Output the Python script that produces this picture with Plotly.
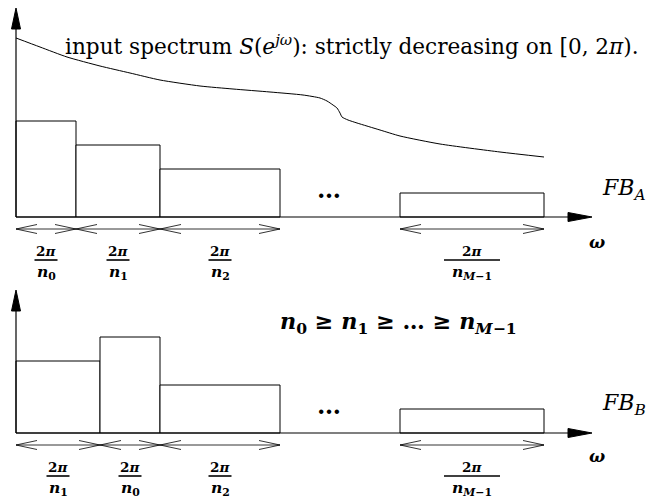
import plotly.graph_objects as go

W, H = 654, 499          # page size in pixels
PAD = 8                  # default body margin of the html page

# ---------------- data ----------------
# filter bank A: band index labels, start offsets, widths, levels
bands_A = ["0", "1", "2", "M−1"]
starts_A = [0, 60, 144, 384]
widths_A = [60, 84, 120, 144]
levels_A = [96, 72, 48, 24]

# filter bank B
bands_B = ["1", "0", "2", "M−1"]
starts_B = [0, 84, 144, 384]
widths_B = [84, 60, 120, 144]
levels_B = [72, 96, 48, 24]

# input spectrum S(e^{jw}) (strictly decreasing)
spec_w = [0, 24, 51, 84, 114, 144, 184, 217, 254, 287, 304, 311, 317, 321, 324,
          326, 332, 341, 364, 384, 424, 484, 528]
spec_s = [179, 170, 160, 151, 144, 137, 131, 128, 125, 122, 119, 116, 112, 109,
          104, 100, 97, 94, 87, 81, 73, 65, 60]

# ---------------- layout helpers ----------------
OX = 16
OY_A = H - 217
OY_B = H - 433
SERIF = "DejaVu Serif, Liberation Serif, serif"

fig = go.Figure()
shapes = []
annotations = []


def line(x0, y0, x1, y1, w=1.0):
    shapes.append(dict(type="line", x0=x0, y0=y0, x1=x1, y1=y1,
                       xref="x", yref="y", line=dict(color="black", width=w)))


def tri(points):
    p = "M " + " L ".join(f"{x},{y}" for x, y in points) + " Z"
    shapes.append(dict(type="path", path=p, xref="x", yref="y",
                       fillcolor="black", line=dict(color="black", width=1)))


def text(x, y, s, size, xanchor="center", yanchor="middle"):
    annotations.append(dict(x=x, y=y, xref="x", yref="y", text=s, showarrow=False,
                            xanchor=xanchor, yanchor=yanchor,
                            font=dict(family=SERIF, size=size, color="black")))


def panel(oy, bands, starts, widths, levels, ytip):
    # bars
    fig.add_trace(go.Bar(
        x=[OX + s + w / 2 for s, w in zip(starts, widths)],
        width=widths, y=levels, base=[oy] * len(levels),
        marker=dict(color="white", line=dict(color="black", width=1)),
        hoverinfo="skip"))
    # axes
    line(OX, oy, OX, oy + ytip - 20, 1.2)
    tri([(OX - 4.5, oy + ytip - 21), (OX + 4.5, oy + ytip - 21), (OX, oy + ytip)])
    line(OX, oy, 570, oy, 1.2)
    tri([(568, oy - 4.5), (568, oy + 4.5), (592, oy)])
    # double arrows + labels
    ya = oy - 12
    for b, s, w in zip(bands, starts, widths):
        x0, x1 = OX + s, OX + s + w
        line(x0, ya, x1, ya, 0.8)
        line(x0 + 21, ya + 4.5, x0, ya, 0.8)
        line(x0 + 21, ya - 4.5, x0, ya, 0.8)
        line(x1 - 21, ya + 4.5, x1, ya, 0.8)
        line(x1 - 21, ya - 4.5, x1, ya, 0.8)
        cx = (x0 + x1) / 2
        hw = 28 if len(b) > 1 else 11.5
        text(cx, oy - 34, "<b>2<i>π</i></b>", 13.5)
        line(cx - hw, oy - 43, cx + hw, oy - 43, 1.6)
        if len(b) > 1:
            den = "<b><i>n</i><sub><i>M</i>−1</sub></b>"
        else:
            den = f"<b><i>n</i><sub>{b}</sub></b>"
        text(cx, oy - 55, den, 15.5)
    # dots
    text(329, oy + 28, "<b>…</b>", 24)


panel(OY_A, bands_A, starts_A, widths_A, levels_A, 209)
panel(OY_B, bands_B, starts_B, widths_B, levels_B, 143)

# spectrum curve
fig.add_trace(go.Scatter(
    x=[OX + w for w in spec_w], y=[OY_A + s for s in spec_s],
    mode="lines", line=dict(color="black", width=1, shape="spline", smoothing=0.6),
    hoverinfo="skip"))

# texts
text(63, H - 45,
     "input spectrum <i>S</i>(<i>e</i><sup><i>jω</i></sup>): strictly decreasing on [0, 2<i>π</i>).",
     21.6, xanchor="left")
text(600, H - 189, "<i>FB</i><sub><i>A</i></sub>", 22, xanchor="left")
text(600, H - 404, "<i>FB</i><sub><i>B</i></sub>", 22, xanchor="left")
text(597, H - 242, "<b><i>ω</i></b>", 17)
text(597, H - 456, "<b><i>ω</i></b>", 17)
text(278, H - 323,
     "<b><i>n</i><sub>0</sub> ≥ <i>n</i><sub>1</sub> ≥ … ≥ <i>n</i><sub><i>M</i>−1</sub></b>",
     22.3, xanchor="left")

fig.update_layout(
    width=W - PAD, height=H - PAD, margin=dict(l=0, r=0, t=0, b=0),
    paper_bgcolor="white", plot_bgcolor="white",
    showlegend=False, barmode="overlay",
    xaxis=dict(range=[PAD, W], visible=False, fixedrange=True),
    yaxis=dict(range=[0, H - PAD], visible=False, fixedrange=True),
    shapes=shapes, annotations=annotations,
)

fig.write_html("out.html", config={"displayModeBar": False})
